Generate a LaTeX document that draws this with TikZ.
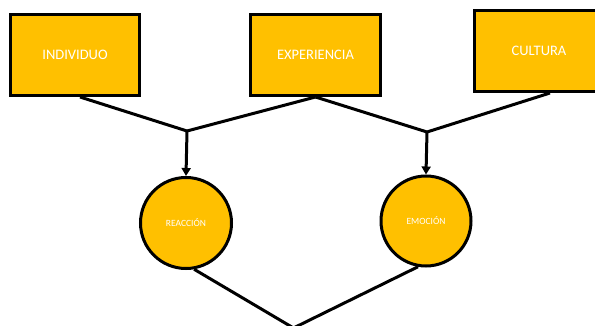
\documentclass[tikz,border=0pt]{standalone}
\usepackage{fontspec}
\setmainfont{Carlito}
\usetikzlibrary{arrows.meta,calc}
\definecolor{gold}{HTML}{FFC000}
\begin{document}
\begin{tikzpicture}[x=1pt,y=-1pt,
  box/.style={draw=black,fill=gold,line width=3pt,minimum width=129pt,minimum height=81pt,inner sep=0pt,text=white,font=\fontsize{14.5}{16}\selectfont},
  circ/.style={circle,draw=black,fill=gold,line width=3pt,minimum size=90pt,inner sep=0pt,text=white,font=\fontsize{9.5}{11}\selectfont},
  conn/.style={draw=black,line width=3pt},
  arr/.style={draw=black,line width=3pt,-{Triangle[length=8pt,width=9pt]}}]
\useasboundingbox (0,0) rectangle (595,326);
\clip (0,0) rectangle (595,326);
\fill[white] (0,0) rectangle (595,326);
\node[box] (ind) at (75,55) {INDIVIDUO};
\node[box,minimum width=130pt] (exp) at (315.5,55) {EXPERIENCIA};
\node[box] (cul) at (539,51) {CULTURA};
\node[circ,minimum size=91pt] (rea) at (186,223) {REACCIÓN};
\node[circ] (emo) at (426,221) {EMOCIÓN};
\coordinate (j1) at (187,131);
\coordinate (j2) at (427,132);
\coordinate (bot) at (293.5,328);
\draw[conn] ([xshift=5pt]ind.south) -- (j1);
\draw[conn] (exp.south) -- (j1);
\draw[conn] (exp.south) -- (j2);
\draw[conn] ([xshift=11pt]cul.south) -- (j2);
\draw[arr] (j1) -- (rea.north);
\draw[arr] (j2) -- (emo.north);
\draw[conn] (rea.-80) -- (bot);
\draw[conn] (emo.-100) -- (bot);
\end{tikzpicture}
\end{document}
